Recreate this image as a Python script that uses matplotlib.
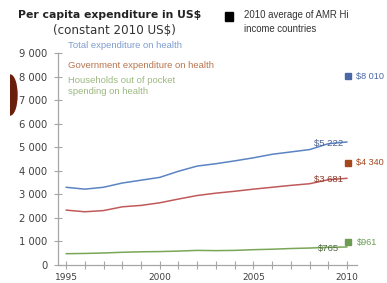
import matplotlib
matplotlib.use("Agg")
import matplotlib.pyplot as plt
from matplotlib.patches import Ellipse, Rectangle

W, H = 387, 283

years = list(range(1995, 2011))
total = [3300, 3220, 3300, 3480, 3600, 3720, 3980, 4200, 4300, 4420, 4550, 4700, 4800, 4900, 5150, 5222]
government = [2330, 2260, 2310, 2470, 2530, 2640, 2800, 2950, 3050, 3130, 3220, 3300, 3380, 3450, 3620, 3681]
households = [480, 490, 510, 540, 560, 570, 590, 620, 610, 620, 650, 670, 700, 720, 750, 765]

series_names = ["Total expenditure on health", "Government expenditure on health",
                "Households out of pocket\nspending on health"]
end_labels = ["$5 222", "$3 681", "$765"]
amr_values = [8010, 4340, 961]
amr_labels = ["$8 010", "$4 340", "$961"]

line_colors = ["#5b84c2", "#c05a5a", "#7aa658"]
text_colors = ["#7f9dcf", "#b8744e", "#9cb880"]
end_colors = ["#4c6190", "#8a3d2c", "#4f6c3e"]
square_colors = ["#4a68a6", "#a5471c", "#6b9c52"]


def px(x, y):
    return x / W, 1 - y / H


fig = plt.figure(figsize=(W / 100, H / 100), dpi=100)
fig.patch.set_facecolor("white")

left, top = px(58, 53)
right, bottom = px(357, 265)
ax = fig.add_axes([left, bottom, right - left, top - bottom])

for values, color in zip([total, government, households], line_colors):
    ax.plot(years, values, color=color, lw=1.1, solid_capstyle="round")

for values, label, color in zip([total, government, households], end_labels, end_colors):
    ax.text(2009.0, values[-1] - 60, label, color=color, fontsize=6.8, ha="center", va="center",
            family="Liberation Sans")

for value, label, color in zip(amr_values, amr_labels, square_colors):
    ax.plot([2010.05], [value], marker="s", ms=4.5, color=color, clip_on=False)
    ax.text(2010.5, value, label, color=color, fontsize=6.6, ha="left", va="center",
            family="Liberation Sans", clip_on=False)

ax.set_xlim(1994.57, 2010.53)
ax.set_ylim(0, 9000)
ax.set_xticks(years)
ax.set_xticklabels([str(y) if y % 5 == 0 else "" for y in years])
ax.set_yticks(range(0, 9001, 1000))
ax.set_yticklabels(["0"] + [f"{v // 1000} 000" for v in range(1000, 9001, 1000)])

for side in ["top", "right"]:
    ax.spines[side].set_visible(False)
for side in ["left", "bottom"]:
    ax.spines[side].set_color("#a6a6a6")
    ax.spines[side].set_linewidth(0.9)
ax.tick_params(axis="both", direction="inout", length=5.5, width=0.8, color="#a6a6a6",
               labelcolor="#404040")
ax.tick_params(axis="y", pad=5, labelsize=7.2)
ax.tick_params(axis="x", pad=3, labelsize=6.5)
ax.set_facecolor("none")

# titles and legend text
fig.text(*px(110, 15), "Per capita expenditure in US$", fontsize=7.8, fontweight="bold",
         ha="center", va="center", color="#222222")
fig.text(*px(114, 31), "(constant 2010 US$)", fontsize=8.6, ha="center", va="center",
         color="#333333")
fig.text(*px(244, 15), "2010 average of AMR Hi", fontsize=6.9, ha="left", va="center",
         color="#333333", family="Liberation Sans")
fig.text(*px(244, 29), "income countries", fontsize=6.9, ha="left", va="center",
         color="#333333", family="Liberation Sans")

legend_y = [46, 65, 86]
for name, color, y in zip(series_names, text_colors, legend_y):
    fig.text(*px(68, y), name, fontsize=6.8, ha="left", va="center", color=color,
             family="Liberation Sans", linespacing=1.3)

# overlay for decorations in pixel coordinates
deco = fig.add_axes([0, 0, 1, 1], zorder=-1)
deco.set_xlim(0, W)
deco.set_ylim(H, 0)
deco.axis("off")
deco.add_patch(Rectangle((225, 12), 8, 9, color="black"))
blob = Ellipse((10, 95), 14, 40, color="#6a1f0c")
deco.add_patch(blob)
blob.set_clip_path(Rectangle((10, 0), 20, H, transform=deco.transData))

fig.savefig("out.png", dpi=100, facecolor="white")
